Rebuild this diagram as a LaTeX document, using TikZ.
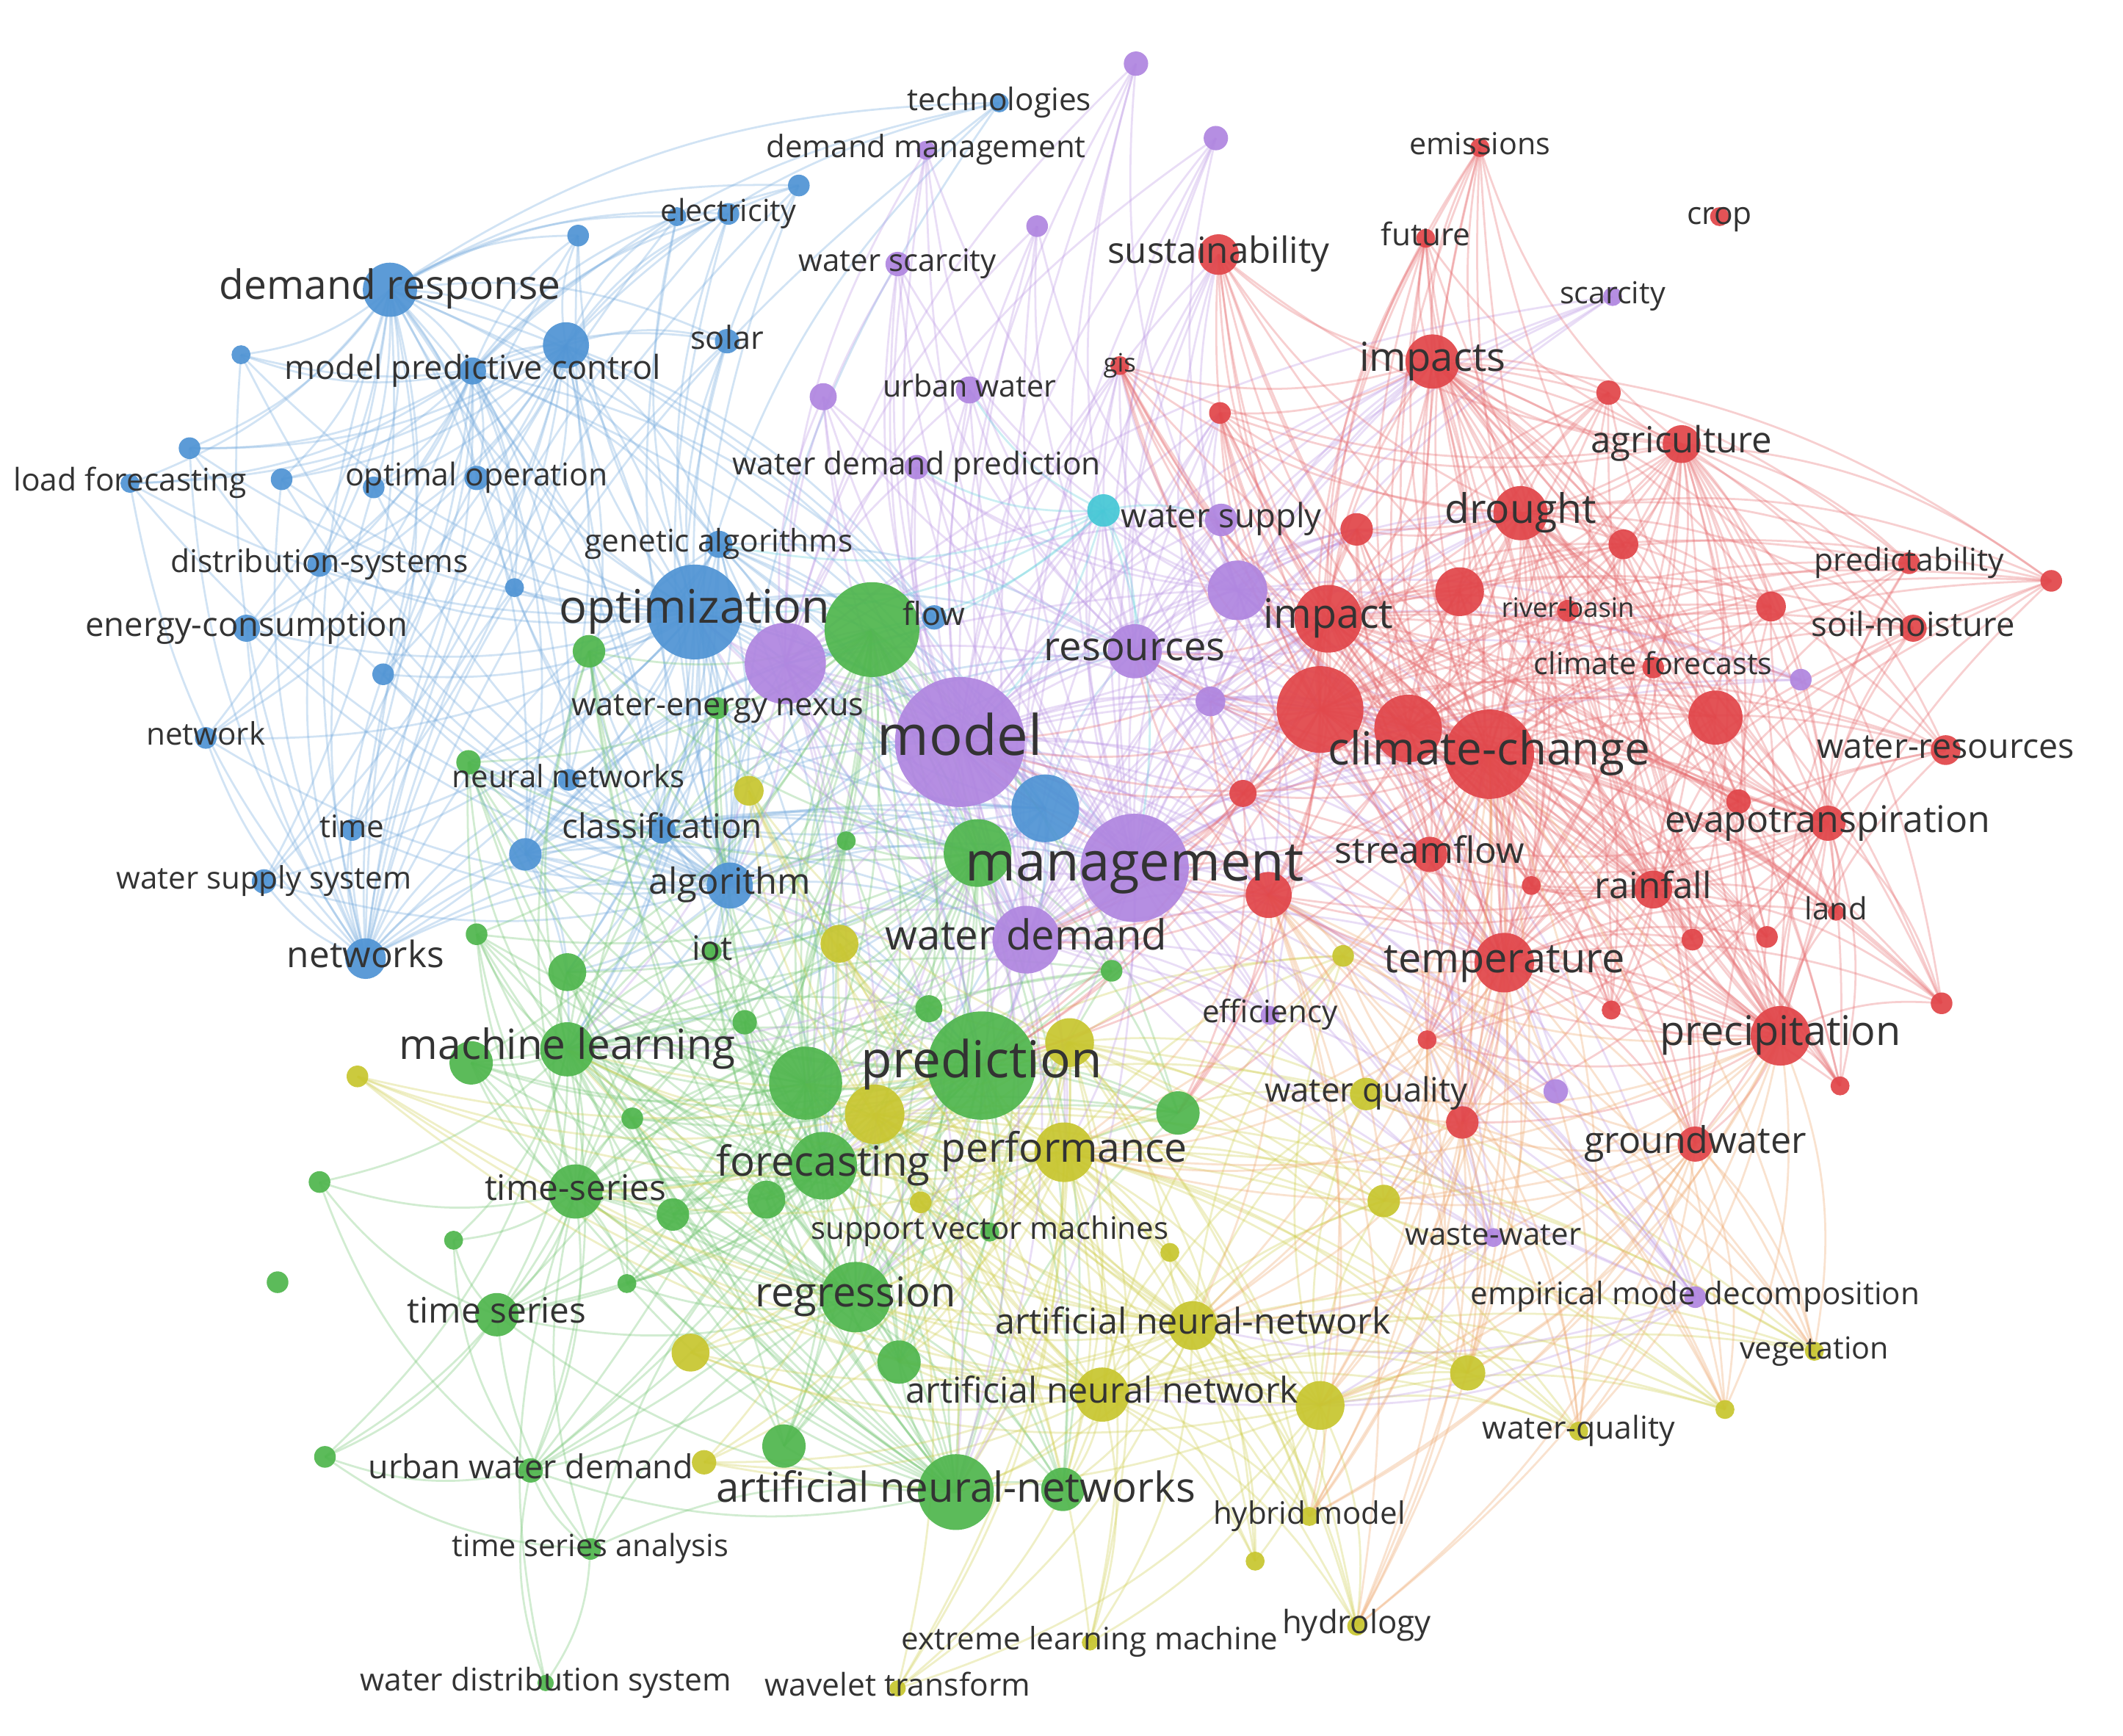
\documentclass[tikz,border=0pt]{standalone}
\usepackage{fontspec}
\setmainfont{Open Sans}
\definecolor{vred}{RGB}{225,70,74}
\definecolor{vgreen}{RGB}{80,182,78}
\definecolor{vblue}{RGB}{80,148,212}
\definecolor{vyellow}{RGB}{200,198,48}
\definecolor{vpurple}{RGB}{176,134,224}
\definecolor{vcyan}{RGB}{70,200,214}
\definecolor{vorange}{RGB}{236,150,80}
\pgfdeclarelayer{bg}
\pgfdeclarelayer{edges}
\pgfdeclarelayer{labels}
\pgfsetlayers{bg,edges,main,labels}
\tikzset{
  kw/.style={circle, inner sep=0pt, draw=none, fill opacity=0.93},
  kwlabel/.style={inner sep=0pt, text=black!80, font=\fontsize{20}{24}\selectfont},
  elink/.style={line width=1.5pt, draw opacity=0.32},
  ered/.style={elink, draw=vred!80},
  egreen/.style={elink, draw=vgreen!80},
  eblue/.style={elink, draw=vblue!80},
  eyellow/.style={elink, draw=vyellow!85},
  epurple/.style={elink, draw=vpurple!85},
  ecyan/.style={elink, draw=vcyan!85},
  eorange/.style={elink, draw=vorange!85},
}
\newcommand{\kn}[5]{\node[kw, fill=#5, minimum size=#4*2pt] (#1) at (#2,#3) {};}
\newcommand{\kl}[3]{\node[kwlabel] (l#1) at (#1.center) {\resizebox{#2pt}{!}{\strut #3}};}
\newcommand{\hubs}[3]{\foreach \a in {#1} \foreach \b in {#2} \draw[#3] (\a.center) to[bend left=16] (\b.center);}
\newcommand{\pairs}[2]{\foreach \a/\b in {#1} \draw[#2] (\a.center) to[bend left=16] (\b.center);}
\begin{document}
\begin{tikzpicture}[x=1pt,y=-1pt]
\begin{pgfonlayer}{bg}
\fill[white] (0,0) rectangle (1568,1282);
\end{pgfonlayer}
\useasboundingbox (0,0) rectangle (1568,1282);
% ---------- blue
\kn{tech}{738}{76}{7}{vblue}
\kn{b1}{500}{160}{7}{vblue}
\kn{elec}{538}{158}{8}{vblue}
\kn{b2}{590}{137}{8}{vblue}
\kn{b3}{427}{174}{8}{vblue}
\kn{dr}{288}{214}{20}{vblue}
\kn{b4}{418}{255}{17}{vblue}
\kn{mpc}{349}{274}{10}{vblue}
\kn{b5}{178}{262}{7}{vblue}
\kn{solar}{537}{252}{9}{vblue}
\kn{b6}{140}{331}{8}{vblue}
\kn{lf}{96}{357}{7}{vblue}
\kn{b7}{208}{354}{8}{vblue}
\kn{oo}{352}{353}{9}{vblue}
\kn{b8}{276}{360}{8}{vblue}
\kn{ds}{236}{417}{9}{vblue}
\kn{b9}{380}{434}{7}{vblue}
\kn{ga}{531}{402}{10}{vblue}
\kn{ec}{182}{464}{10}{vblue}
\kn{b10}{283}{498}{8}{vblue}
\kn{opt}{513}{452}{35}{vblue}
\kn{flow}{690}{456}{9}{vblue}
\kn{net}{152}{545}{8}{vblue}
\kn{time}{260}{613}{8}{vblue}
\kn{wss}{195}{651}{9}{vblue}
\kn{b11}{388}{631}{12}{vblue}
\kn{nws}{270}{708}{15}{vblue}
\kn{clf}{489}{613}{10}{vblue}
\kn{nn}{420}{576}{8}{vblue}
\kn{alg}{539}{654}{17}{vblue}
\kn{b12}{772}{597}{25}{vblue}
% ---------- green
\kn{g1}{435}{481}{12}{vgreen}
\kn{wen}{530}{523}{8}{vgreen}
\kn{g2}{644}{465}{35}{vgreen}
\kn{g3}{346}{563}{9}{vgreen}
\kn{g4}{625}{621}{7}{vgreen}
\kn{g5}{722}{630}{25}{vgreen}
\kn{iot}{526}{703}{7}{vgreen}
\kn{g6}{686}{745}{10}{vgreen}
\kn{g7}{821}{717}{8}{vgreen}
\kn{g8}{352}{690}{8}{vgreen}
\kn{g9}{419}{718}{14}{vgreen}
\kn{g10}{550}{755}{9}{vgreen}
\kn{ml}{419}{775}{20}{vgreen}
\kn{g11}{348}{785}{16}{vgreen}
\kn{pred}{725}{787}{40}{vgreen}
\kn{g12}{595}{800}{27}{vgreen}
\kn{g13}{870}{822}{16}{vgreen}
\kn{g14}{467}{826}{8}{vgreen}
\kn{fc}{608}{861}{25}{vgreen}
\kn{ts1}{425}{880}{20}{vgreen}
\kn{g15}{497}{897}{12}{vgreen}
\kn{g16}{566}{886}{14}{vgreen}
\kn{g17}{236}{873}{8}{vgreen}
\kn{g18}{335}{916}{7}{vgreen}
\kn{svm}{731}{910}{7}{vgreen}
\kn{g19}{205}{947}{8}{vgreen}
\kn{g20}{463}{948}{7}{vgreen}
\kn{ts2}{367}{971}{16}{vgreen}
\kn{reg}{632}{958}{26}{vgreen}
\kn{g21}{664}{1006}{16}{vgreen}
\kn{g22}{579}{1068}{16}{vgreen}
\kn{uwd}{392}{1086}{9}{vgreen}
\kn{ann3}{706}{1102}{28}{vgreen}
\kn{g23}{785}{1100}{16}{vgreen}
\kn{g24}{240}{1076}{8}{vgreen}
\kn{tsa}{436}{1144}{8}{vgreen}
\kn{wds}{403}{1243}{6}{vgreen}
% ---------- yellow
\kn{y1}{553}{584}{11}{vyellow}
\kn{y2}{620}{697}{14}{vyellow}
\kn{y3}{790}{770}{18}{vyellow}
\kn{y4}{646}{823}{22}{vyellow}
\kn{perf}{786}{851}{22}{vyellow}
\kn{y5}{264}{795}{8}{vyellow}
\kn{y6}{680}{888}{8}{vyellow}
\kn{y7}{1022}{887}{12}{vyellow}
\kn{y8}{864}{925}{7}{vyellow}
\kn{ann1}{881}{979}{18}{vyellow}
\kn{y9}{510}{999}{14}{vyellow}
\kn{y10}{1084}{1014}{13}{vyellow}
\kn{ann2}{814}{1030}{20}{vyellow}
\kn{y11}{975}{1038}{18}{vyellow}
\kn{y12}{520}{1080}{9}{vyellow}
\kn{hm}{967}{1120}{7}{vyellow}
\kn{y13}{927}{1153}{7}{vyellow}
\kn{y14}{1274}{1041}{7}{vyellow}
\kn{wq2}{1166}{1057}{7}{vyellow}
\kn{veg}{1340}{998}{7}{vyellow}
\kn{hyd}{1002}{1201}{7}{vyellow}
\kn{elm}{805}{1213}{6}{vyellow}
\kn{wt}{663}{1247}{6}{vyellow}
\kn{wq1}{1009}{808}{12}{vyellow}
\kn{y15}{992}{706}{8}{vyellow}
% ---------- purple
\kn{p1}{839}{47}{9}{vpurple}
\kn{dm}{684}{111}{7}{vpurple}
\kn{p2}{898}{102}{9}{vpurple}
\kn{p3}{766}{167}{8}{vpurple}
\kn{wsc}{663}{195}{9}{vpurple}
\kn{p4}{608}{293}{10}{vpurple}
\kn{uw}{716}{288}{10}{vpurple}
\kn{wdp}{677}{345}{9}{vpurple}
\kn{wsup}{902}{384}{12}{vpurple}
\kn{p5}{914}{436}{22}{vpurple}
\kn{res}{838}{481}{20}{vpurple}
\kn{p6}{580}{490}{30}{vpurple}
\kn{model}{709}{548}{48}{vpurple}
\kn{p7}{894}{518}{11}{vpurple}
\kn{mgmt}{838}{641}{40}{vpurple}
\kn{wd}{758}{694}{25}{vpurple}
\kn{eff}{938}{750}{7}{vpurple}
\kn{scar}{1191}{219}{7}{vpurple}
\kn{p8}{1330}{502}{8}{vpurple}
\kn{p9}{1149}{806}{9}{vpurple}
\kn{ww}{1103}{914}{7}{vpurple}
\kn{emd}{1252}{958}{8}{vpurple}
\kn{c1}{815}{377}{12}{vcyan}
% ---------- red
\kn{emis}{1093}{109}{7}{vred}
\kn{crop}{1270}{160}{7}{vred}
\kn{sust}{900}{188}{15}{vred}
\kn{fut}{1053}{176}{7}{vred}
\kn{gis}{827}{270}{7}{vred}
\kn{imps}{1058}{267}{20}{vred}
\kn{r1}{901}{305}{8}{vred}
\kn{r2}{1188}{290}{9}{vred}
\kn{agr}{1242}{328}{14}{vred}
\kn{dro}{1123}{379}{20}{vred}
\kn{r3}{1002}{391}{12}{vred}
\kn{r4}{1199}{402}{11}{vred}
\kn{imp}{981}{457}{25}{vred}
\kn{r5}{1078}{437}{18}{vred}
\kn{rb}{1158}{451}{8}{vred}
\kn{pred2}{1410}{416}{8}{vred}
\kn{r6}{1515}{429}{8}{vred}
\kn{r7}{1308}{448}{11}{vred}
\kn{sm}{1413}{464}{10}{vred}
\kn{r8}{975}{524}{32}{vred}
\kn{r9}{1040}{538}{25}{vred}
\kn{cc}{1100}{557}{33}{vred}
\kn{r10}{1267}{530}{20}{vred}
\kn{r11}{918}{586}{10}{vred}
\kn{wr}{1437}{554}{11}{vred}
\kn{cf}{1221}{493}{8}{vred}
\kn{r12}{1131}{654}{7}{vred}
\kn{sf}{1056}{631}{13}{vred}
\kn{et}{1350}{608}{13}{vred}
\kn{r13}{1284}{592}{9}{vred}
\kn{r14}{937}{661}{17}{vred}
\kn{rain}{1221}{657}{14}{vred}
\kn{land}{1356}{674}{6}{vred}
\kn{r15}{1250}{694}{8}{vred}
\kn{r16}{1305}{692}{8}{vred}
\kn{temp}{1111}{711}{22}{vred}
\kn{r17}{1190}{746}{7}{vred}
\kn{r18}{1434}{741}{8}{vred}
\kn{prec}{1315}{765}{22}{vred}
\kn{r19}{1359}{802}{7}{vred}
\kn{r20}{1054}{768}{7}{vred}
\kn{r21}{1080}{829}{12}{vred}
\kn{gw}{1252}{845}{13}{vred}
% ---------- edges
\begin{pgfonlayer}{edges}
\hubs{opt,dr,b4,alg,nws,mpc}{tech,b1,elec,b2,b3,b5,solar,b6,lf,b7,oo,b8,ds,b9,ga,ec,b10,flow,net,time,wss,b11,clf,nn,b12}{eblue}
\pairs{opt/dr,opt/b4,opt/alg,opt/nws,opt/mpc,dr/b4,dr/mpc,b4/alg,nws/alg,mpc/b4,nws/dr}{eblue}
\hubs{opt,alg,b12,clf,b11,ga}{model,g2,g5,p6,pred,ml,wd,mgmt,res,fc,g1,wen,g9,g3,iot}{eblue}
\hubs{pred,fc,reg,ann3,ml,ts1,g12,g2,g5}{g1,wen,g3,g4,iot,g6,g7,g8,g9,g10,g11,g13,g14,g15,g16,svm,g20,ts2,g21,g22,uwd,g23}{egreen}
\pairs{pred/fc,pred/reg,pred/ann3,pred/ml,pred/ts1,pred/g12,pred/g2,pred/g5,fc/reg,fc/ann3,fc/ml,fc/ts1,fc/g12,fc/g2,reg/ann3,reg/ml,reg/ts1,reg/g12,ann3/ml,ann3/ts1,ann3/g12,ml/ts1,ml/g12,ml/g2,ts1/g12,g12/g2,g2/g5,g5/ml,g5/reg}{egreen}
\hubs{ts2,ml,uwd,ts1}{g24,g17,g18}{egreen}
\hubs{tsa}{wds,g24,ts1,ts2,uwd,ann3,reg,fc}{egreen}
\pairs{wds/ts1,wds/uwd}{egreen}
\hubs{perf,ann1,ann2,y4,y3}{pred,fc,reg,ann3,g12,ml,ts1,g21,g23,svm}{eyellow}
\hubs{perf,ann1,ann2,y11,y4,y3}{y1,y2,y5,y6,y7,y8,y9,y10,y12,hm,y13,y14,wq2,veg,hyd,elm,wt,wq1,y15}{eyellow}
\pairs{perf/ann1,perf/ann2,perf/y11,perf/y4,perf/y3,ann1/ann2,ann1/y11,ann2/y11,y4/y3,ann2/y4}{eyellow}
\hubs{model,mgmt,wd,res,p6,p5}{p1,dm,p2,p3,wsc,p4,uw,wdp,wsup,p7,eff,scar,p8,p9,ww,emd,c1}{epurple}
\pairs{model/mgmt,model/wd,model/res,model/p6,model/p5,mgmt/wd,mgmt/res,mgmt/p5,res/p5,wd/p6}{epurple}
\hubs{model,mgmt,res,p5,wd,p7}{imp,cc,r8,r9,dro,imps,sust,temp,sf,r14,r11,r3,gis,r1}{epurple}
\hubs{model,mgmt,wd,p6}{pred,g5,g2,fc,reg,ml,g12,perf,ann3,alg,opt}{epurple}
\hubs{emd,ww}{ann2,y11,mgmt,model,cc,ann1}{epurple}
\hubs{cc,r8,r9,imp,imps,dro,temp,prec,et,rain,agr}{emis,sust,fut,gis,r1,r2,r3,r4,r5,rb,pred2,r6,r7,sm,r10,r11,wr,r12,sf,r13,r14,land,r15,r16,r17,r18,r19,r20,r21,gw,cf}{ered}
\pairs{cc/r8,cc/r9,cc/imp,cc/imps,cc/dro,cc/temp,cc/prec,cc/et,cc/rain,cc/agr,r8/r9,r8/imp,r8/imps,r8/dro,r8/temp,r9/imp,r9/dro,imp/imps,imp/dro,imps/dro,dro/temp,dro/prec,temp/prec,temp/rain,prec/et,prec/rain,et/rain,agr/dro,agr/imps,agr/et}{ered}
\hubs{temp,prec,gw,r21,r14,cc,r20}{y7,y10,y11,ann1,wq1,hyd,y15,perf,y14,wq2,veg,hm}{eorange}
\hubs{r8,imp,cc,r14,r11}{pred,mgmt,model,wd,res,p7,g13}{ered}
\hubs{c1}{opt,model,wdp,g2,res,wsup,p6,uw,ga,mgmt}{ecyan}
\end{pgfonlayer}
% ---------- labels
\begin{pgfonlayer}{labels}
\kl{tech}{136}{technologies}
\kl{dm}{236}{demand management}
\kl{elec}{100}{electricity}
\kl{dr}{252}{demand response}
\kl{mpc}{278}{model predictive control}
\kl{solar}{54}{solar}
\kl{lf}{172}{load forecasting}
\kl{oo}{194}{optimal operation}
\kl{ds}{220}{distribution-systems}
\kl{ga}{198}{genetic algorithms}
\kl{ec}{238}{energy-consumption}
\kl{opt}{200}{optimization}
\kl{flow}{46}{flow}
\kl{net}{88}{network}
\kl{time}{48}{time}
\kl{wss}{218}{water supply system}
\kl{nws}{116}{networks}
\kl{clf}{148}{classification}
\kl{nn}{172}{neural networks}
\kl{alg}{120}{algorithm}
\kl{wen}{216}{water-energy nexus}
\kl{iot}{30}{iot}
\kl{ml}{248}{machine learning}
\kl{pred}{178}{prediction}
\kl{fc}{158}{forecasting}
\kl{perf}{182}{performance}
\kl{ts1}{134}{time-series}
\kl{svm}{264}{support vector machines}
\kl{ts2}{132}{time series}
\kl{reg}{148}{regression}
\kl{ann1}{292}{artificial neural-network}
\kl{ann2}{290}{artificial neural network}
\kl{uwd}{240}{urban water demand}
\kl{ann3}{354}{artificial neural-networks}
\kl{hm}{142}{hybrid model}
\kl{tsa}{204}{time series analysis}
\kl{wq2}{142}{water-quality}
\kl{veg}{110}{vegetation}
\kl{hyd}{110}{hydrology}
\kl{elm}{278}{extreme learning machine}
\kl{wt}{196}{wavelet transform}
\kl{wds}{274}{water distribution system}
\kl{wq1}{150}{water quality}
\kl{wsc}{146}{water scarcity}
\kl{uw}{128}{urban water}
\kl{wdp}{272}{water demand prediction}
\kl{wsup}{148}{water supply}
\kl{res}{134}{resources}
\kl{model}{122}{model}
\kl{mgmt}{250}{management}
\kl{wd}{208}{water demand}
\kl{eff}{100}{efficiency}
\kl{scar}{78}{scarcity}
\kl{ww}{130}{waste-water}
\kl{emd}{332}{empirical mode decomposition}
\kl{emis}{104}{emissions}
\kl{crop}{48}{crop}
\kl{sust}{164}{sustainability}
\kl{fut}{66}{future}
\kl{gis}{24}{gis}
\kl{imps}{108}{impacts}
\kl{agr}{134}{agriculture}
\kl{dro}{112}{drought}
\kl{imp}{96}{impact}
\kl{rb}{98}{river-basin}
\kl{pred2}{140}{predictability}
\kl{sm}{150}{soil-moisture}
\kl{cc}{238}{climate-change}
\kl{wr}{190}{water-resources}
\kl{cf}{176}{climate forecasts}
\kl{sf}{140}{streamflow}
\kl{et}{240}{evapotranspiration}
\kl{rain}{86}{rainfall}
\kl{land}{46}{land}
\kl{temp}{178}{temperature}
\kl{prec}{178}{precipitation}
\kl{gw}{164}{groundwater}
\end{pgfonlayer}
\end{tikzpicture}
\end{document}
